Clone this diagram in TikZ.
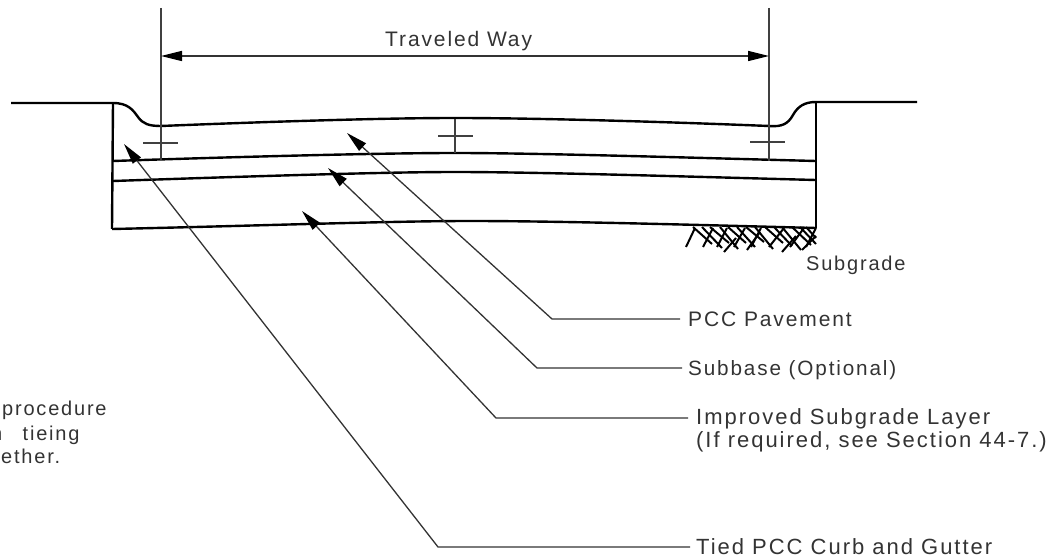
\documentclass[tikz,border=0pt]{standalone}
\usepackage{fontspec}
\setmainfont[LetterSpace=9]{Liberation Sans}
\usetikzlibrary{arrows.meta}
\tikzset{
  x=1pt,y=-1pt,
  heavy/.style={line width=2.4pt,line join=round,color=black},
  thin line/.style={line width=1.3pt,color=black!75},
  leader/.style={line width=1.3pt,color=black!80,{Triangle[length=21pt,width=10pt,color=black]}-},
  dimarrow/.style={line width=1.3pt,color=black!80,{Triangle[length=21pt,width=10pt,color=black]}-{Triangle[length=21pt,width=10pt,color=black]}},
  hatch/.style={line width=2pt,color=black},
  label/.style={inner sep=0pt,anchor=base west,text=black!80},
  f20/.style={font=\fontsize{20}{24}\selectfont},
  f205/.style={font=\fontsize{20.7}{24}\selectfont},
  f21/.style={font=\fontsize{21}{25}\selectfont},
  f22/.style={font=\fontsize{22}{26}\selectfont},
}
\begin{document}
\begin{tikzpicture}
\useasboundingbox (0,0) rectangle (1061,559);
% outline
\draw[heavy] (11,103) -- (113,103) .. controls (128,103) and (133,110) .. (138,117) .. controls (143,124) and (149,126) .. (161,126)
  .. controls (260,122) and (380,118) .. (455,118) .. controls (540,118) and (670,122) .. (769,126)
  .. controls (782,127) and (788,124) .. (793,115) .. controls (798,106) and (805,102) .. (816,102) -- (917,102);
\draw[heavy] (113,103) -- (112,229);
\draw[heavy] (816,102) -- (816,228);
\draw[heavy] (113,161) .. controls (230,157) and (380,153) .. (455,153) .. controls (540,153) and (700,158) .. (816,161);
\draw[heavy] (113,181) .. controls (230,177) and (380,172) .. (455,172) .. controls (540,172) and (700,177) .. (816,180);
\draw[heavy] (112,229) .. controls (250,226) and (390,221) .. (470,221) .. controls (560,221) and (700,225) .. (816,228);
% centre marks
\coordinate (elt) at (161,8); \coordinate (elb) at (161,160);
\coordinate (ert) at (769,8); \coordinate (erb) at (769,161);
\draw[thin line] (elt) -- (elb);
\draw[thin line] (ert) -- (erb);
\draw[thin line] (143,143) -- (178,143);
\draw[thin line] (750,142) -- (785,142);
\draw[thin line] (455,119) -- (455,153);
\draw[thin line] (438,136) -- (473,136);
% dimension
\coordinate (dl) at (161,56); \coordinate (dr) at (769,56);
\draw[dimarrow] (dl) -- (dr);
\node[label,f21] (tw) at (385,47) {Traveled Way};
% hatch
\foreach \a/\b in {686/695,703/713,717/727,734/745,751/761,769/784,790/804,806/816}
  \draw[hatch] (\a,247) -- (\b,228);
\foreach \a/\b/\c in {693/712/244,702/722/248,710/729/243,720/738/249,728/746/243,737/755/247,746/764/242,755/773/249,765/783/243,774/792/246,782/801/250,792/811/245,800/816/244,806/816/238}
  \draw[hatch] (\a,227) -- (\b,\c);
\draw[hatch] (724,252) -- (736,238);
\draw[hatch] (747,250) -- (760,232);
\draw[hatch] (782,252) -- (796,236);
\draw[hatch] (802,250) -- (816,236);
\node[label,f20] (sg) at (806,270) {Subgrade};
% leaders
\node[label,f21] (pcc) at (688,326) {PCC Pavement};
\node[label,f205] (sb) at (688,375) {Subbase (Optional)};
\node[label,f22] (isl) at (696,424) {Improved Subgrade Layer};
\node[label,f22] (isl2) at (696,447) {(If required, see Section 44-7.)};
\node[label,f22] (tied) at (696,554) {Tied PCC Curb and Gutter};
\coordinate (a1) at (347,133); \coordinate (b1) at (552,319); \coordinate (c1) at (680,319);
\coordinate (a2) at (328,168); \coordinate (b2) at (537,368); \coordinate (c2) at (682,368);
\coordinate (a3) at (302,211); \coordinate (b3) at (496,418); \coordinate (c3) at (688,418);
\coordinate (a4) at (124,144); \coordinate (b4) at (438,547); \coordinate (c4) at (690,547);
\draw[leader] (a1) -- (b1) -- (c1);
\draw[leader] (a2) -- (b2) -- (c2);
\draw[leader] (a3) -- (b3) -- (c3);
\draw[leader] (a4) -- (b4) -- (c4);
% cropped note, as the reference prints it
\node[label,f20] (n1) at (2,415) {procedure};
\node[label,f20] (n2) at (-9,440) {n\hspace{13pt} tieing};
\node[label,f20] (n3) at (1,463) {ether.};
\end{tikzpicture}
\end{document}
